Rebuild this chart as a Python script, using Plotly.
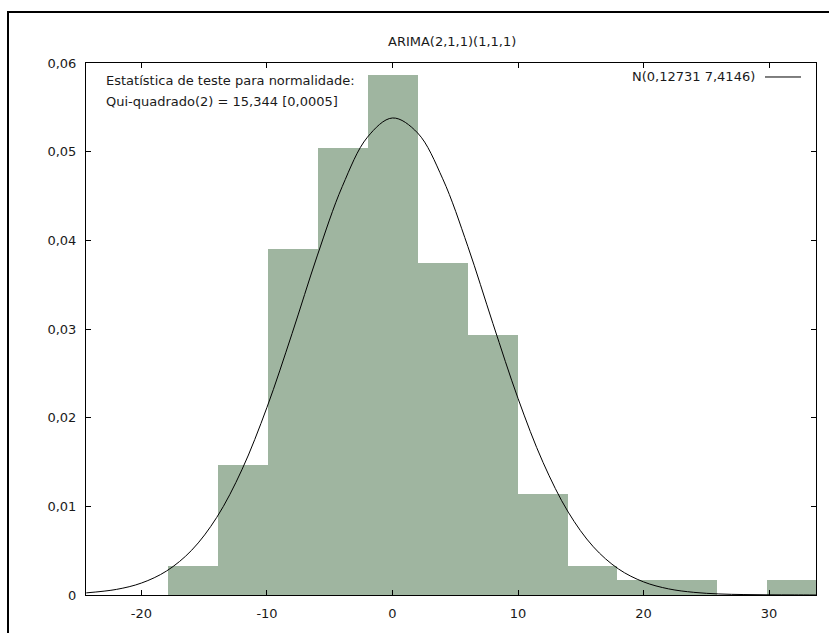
import plotly.graph_objects as go

# Histogram (density)
bin_centers = [-15.88, -11.90, -7.93, -3.95, 0.03, 4.00, 7.98, 11.96, 15.93, 19.91, 23.89, 27.86, 31.84]
bin_width = 3.977
densities = [0.00330, 0.0147, 0.0390, 0.0504, 0.0586, 0.0374, 0.0293, 0.0114, 0.00330, 0.00168, 0.00168, 0.0, 0.00168]

# Normal density curve N(0,12731 7,4146)
curve_x = [-24.4, -22, -20, -18, -16, -14, -12, -10, -8, -6, -4, -2, 0, 2, 4, 6, 8, 10,
           12, 14, 16, 18, 20, 22, 24, 26, 28, 30, 32, 33.8]
curve_y = [0.00024, 0.00063, 0.00135, 0.00271, 0.00505, 0.00876, 0.01412, 0.02117, 0.0295,
           0.03824, 0.04608, 0.05163, 0.0538, 0.05211, 0.04694, 0.03932, 0.03062, 0.02217,
           0.01493, 0.00935, 0.00544, 0.00294, 0.00148, 0.00069, 0.00030, 0.00012, 0.00005,
           0.00002, 0.00001, 0.0]

x_tick_vals = [-20, -10, 0, 10, 20, 30]
x_tick_labels = ["-20", "-10", "0", "10", "20", "30"]
y_tick_vals = [0, 0.01, 0.02, 0.03, 0.04, 0.05, 0.06]
y_tick_labels = ["0", "0,01", "0,02", "0,03", "0,04", "0,05", "0,06"]

title_text = "ARIMA(2,1,1)(1,1,1)"
stat_lines = ["Estatística de teste para normalidade:", "Qui-quadrado(2) = 15,344 [0,0005]"]
legend_text = "N(0,12731 7,4146)"

FONT = "DejaVu Sans, Verdana, sans-serif"
FS = 13
TXT = "#1a1a1a"
W, H = 829, 633
L, R, T, B = 86, 13, 63, 37.5
pw, ph = W - L - R, H - T - B


def px_to_paper_x(px):
    return (px - L) / pw


def px_to_paper_y(py):
    return 1 - (py - T) / ph


fig = go.Figure()
fig.add_trace(go.Bar(
    x=bin_centers, y=densities, width=bin_width,
    marker=dict(color="#9fb5a0", line=dict(width=0)),
    showlegend=False, hoverinfo="x+y",
))
fig.add_trace(go.Scatter(
    x=curve_x, y=curve_y, mode="lines",
    line=dict(color="black", width=1, shape="spline", smoothing=1.0),
    showlegend=False,
))

axis_common = dict(
    showline=True, linecolor="black", linewidth=1, mirror="ticks",
    ticks="inside", ticklen=5, tickcolor="black", tickwidth=1,
    showgrid=False, zeroline=False,
    tickfont=dict(family=FONT, size=FS, color=TXT),
)

fig.update_layout(
    width=W, height=H,
    margin=dict(l=L, r=R, t=T, b=B, pad=0),
    paper_bgcolor="white", plot_bgcolor="white",
    bargap=0,
    font=dict(family=FONT, size=FS, color=TXT),
    xaxis=dict(range=[-24.42, 33.74], tickvals=x_tick_vals, ticktext=x_tick_labels,
               ticklabelstandoff=6, **axis_common),
    yaxis=dict(range=[0, 0.06], tickvals=y_tick_vals, ticktext=y_tick_labels,
               ticklabelstandoff=6, **axis_common),
)

# Title
fig.add_annotation(xref="paper", yref="paper", x=px_to_paper_x(452), y=px_to_paper_y(41),
                   text=title_text, showarrow=False, xanchor="center", yanchor="middle",
                   font=dict(family=FONT, size=FS, color=TXT))
# Statistic text
for i, line in enumerate(stat_lines):
    fig.add_annotation(xref="paper", yref="paper", x=px_to_paper_x(104), y=px_to_paper_y(81 + 21 * i),
                       text=line, showarrow=False, xanchor="left", yanchor="middle",
                       font=dict(family=FONT, size=FS, color=TXT))
# Legend
fig.add_annotation(xref="paper", yref="paper", x=px_to_paper_x(757), y=px_to_paper_y(77),
                   text=legend_text, showarrow=False, xanchor="right", yanchor="middle",
                   font=dict(family=FONT, size=FS, color=TXT))
fig.add_shape(type="line", xref="paper", yref="paper",
              x0=px_to_paper_x(765), x1=px_to_paper_x(801),
              y0=px_to_paper_y(77), y1=px_to_paper_y(77),
              line=dict(color="black", width=1))

# Outer frame (top and left edges visible)
fig.add_shape(type="line", xref="paper", yref="paper",
              x0=px_to_paper_x(7), x1=px_to_paper_x(835),
              y0=px_to_paper_y(12), y1=px_to_paper_y(12),
              line=dict(color="black", width=2))
fig.add_shape(type="line", xref="paper", yref="paper",
              x0=px_to_paper_x(8), x1=px_to_paper_x(8),
              y0=px_to_paper_y(11), y1=px_to_paper_y(640),
              line=dict(color="black", width=2))

fig.write_html("out.html")
